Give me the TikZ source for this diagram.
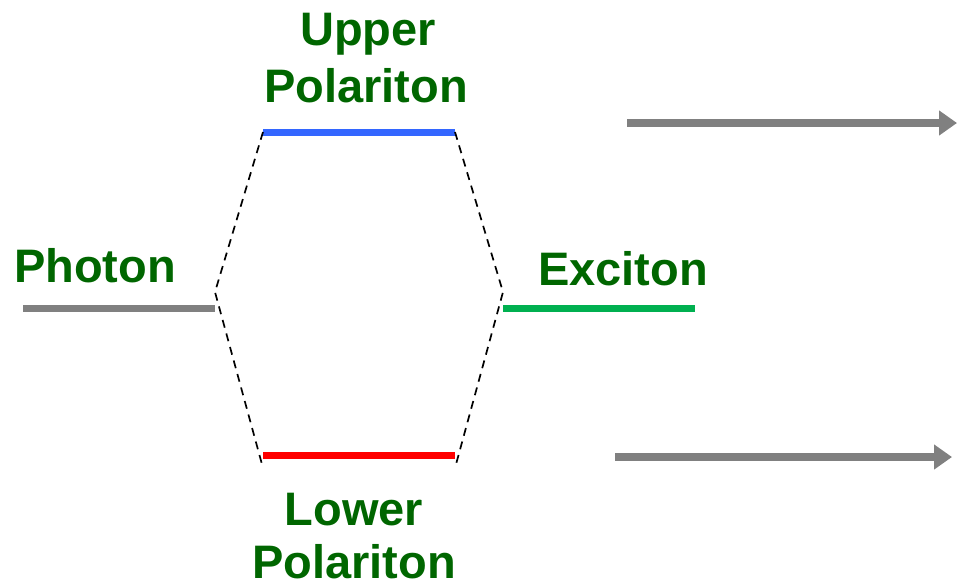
\documentclass[tikz,border=0pt]{standalone}
\usepackage{fontspec}
\setmainfont{Liberation Sans}
\usetikzlibrary{arrows.meta}
\definecolor{txtgreen}{RGB}{0,102,0}
\definecolor{exgreen}{RGB}{0,176,80}
\definecolor{upblue}{RGB}{51,102,255}
\definecolor{lored}{RGB}{255,0,0}
\definecolor{lvlgrey}{RGB}{128,128,128}
\tikzset{
  lbl/.style={font=\fontsize{47}{56}\selectfont\bfseries, text=txtgreen, anchor=base, inner sep=0pt},
  level/.style={line width=7pt},
  guide/.style={black, line width=1.7pt, dash pattern=on 8pt off 6pt},
  flow/.style={lvlgrey, line width=8pt, -{Triangle[length=18pt,width=24pt]}}
}
\begin{document}
\begin{tikzpicture}[x=1pt,y=-1pt]
\useasboundingbox (0,0) rectangle (957,587);
% level end points
\coordinate (upL) at (263,132); \coordinate (upR) at (455,132);
\coordinate (loL) at (263,455); \coordinate (loR) at (455,455);
\coordinate (phL) at (23,308);  \coordinate (phR) at (215,308);
\coordinate (exL) at (503,308); \coordinate (exR) at (695,308);
\coordinate (cL) at (215,292);  \coordinate (cR) at (503,292);
\coordinate (bL) at (263,468);  \coordinate (bR) at (455,468);
\coordinate (a1s) at (627,123); \coordinate (a1e) at (957,123);
\coordinate (a2s) at (615,457); \coordinate (a2e) at (952,457);
% levels
\draw[level, upblue] (upL) -- (upR);
\draw[level, lored] (loL) -- (loR);
\draw[level, lvlgrey] (phL) -- (phR);
\draw[level, exgreen] (exL) -- (exR);
% dashed guides
\draw[guide] (upL) -- (cL) -- (bL);
\draw[guide] (upR) -- (cR) -- (bR);
% arrows
\draw[flow] (a1s) -- (a1e);
\draw[flow] (a2s) -- (a2e);
% labels
\node[lbl] (up1) at (368,45) {Upper};
\node[lbl] (up2) at (366,102) {Polariton};
\node[lbl] (lo1) at (354,525) {Lower};
\node[lbl] (lo2) at (354,578) {Polariton};
\node[lbl] (ph) at (95,282) {Photon};
\node[lbl] (ex) at (623,285) {Exciton};
\end{tikzpicture}
\end{document}
